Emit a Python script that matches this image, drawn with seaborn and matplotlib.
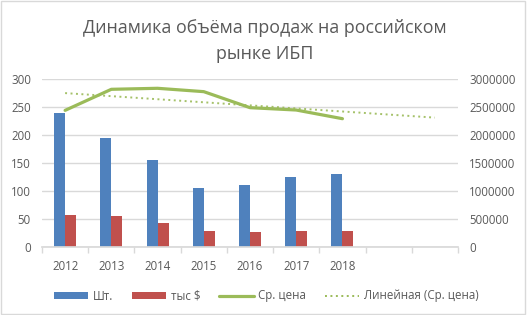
import numpy as np
import pandas as pd
import matplotlib
matplotlib.use("Agg")
import matplotlib.pyplot as plt
from matplotlib.patches import Rectangle, Patch
from matplotlib.lines import Line2D
import seaborn as sns

years = ["2012", "2013", "2014", "2015", "2016", "2017", "2018"]
units = [240, 195, 155, 105, 110, 125, 130]
usd_k = [58, 55, 43, 28, 27, 29, 29]
avg_price = [2440000, 2816000, 2834000, 2774000, 2488000, 2446000, 2291000]
n_slots = 9  # two empty slots after 2018 for the trendline forecast

BLUE = "#4F81BD"
RED = "#C0504D"
GREEN = "#9BBB59"
GRID = "#D9D9D9"
TEXT = "#595959"

sns.set_theme(style="white")
plt.rcParams["font.family"] = ["Open Sans", "DejaVu Sans"]

df = pd.DataFrame({
    "year": years * 2,
    "value": units + usd_k,
    "series": ["Шт."] * len(years) + ["тыс $"] * len(years),
})

fig = plt.figure(figsize=(5.27, 3.15), dpi=100)
ax = fig.add_axes([42 / 527, 1 - 247 / 315, 416 / 527, 168 / 315])

sns.barplot(data=df, x="year", y="value", hue="series", order=years,
            palette=[BLUE, RED], width=0.476, ax=ax, legend=False,
            saturation=1, edgecolor="none")
ax.set_xlim(-0.5, n_slots - 0.5)
ax.set_ylim(0, 300)
ax.set_yticks(range(0, 301, 50))
ax.yaxis.grid(True, color=GRID, linewidth=1)
ax.set_axisbelow(True)
ax.set_xlabel("")
ax.set_ylabel("")
for s in ["top", "left", "right"]:
    ax.spines[s].set_visible(False)
ax.spines["bottom"].set_color(GRID)
ax.set_xticks(range(len(years)))
ax.set_xticklabels(years)
ax.set_xticks(np.arange(-0.5, n_slots, 1), minor=True)
ax.tick_params(axis="x", which="major", length=0, pad=9, labelsize=8.3, labelcolor=TEXT)
ax.tick_params(axis="x", which="minor", length=4, color=GRID, width=1, bottom=True)
ax.tick_params(axis="y", length=0, pad=8, labelsize=8.3, labelcolor=TEXT)

ax2 = ax.twinx()
x = np.arange(len(years))
sns.lineplot(x=x, y=avg_price, color=GREEN, linewidth=2.3, ax=ax2)
coef = np.polyfit(x, avg_price, 1)
xt = np.arange(n_slots)
sns.lineplot(x=xt, y=np.polyval(coef, xt), color=GREEN, linewidth=1.4,
             linestyle=(0, (1, 1.8)), alpha=0.9, ax=ax2)
ax2.set_ylim(0, 3000000)
ax2.set_yticks(range(0, 3000001, 500000))
ax2.set_yticklabels([str(v) for v in range(0, 3000001, 500000)])
ax2.tick_params(axis="y", length=0, pad=8, labelsize=8.3, labelcolor=TEXT)
for s in ["top", "left", "right", "bottom"]:
    ax2.spines[s].set_visible(False)
ax2.grid(False)
ax.set_xlim(-0.5, n_slots - 0.5)

fig.text(0.503, 1 - 41 / 315, "Динамика объёма продаж на российском\nрынке ИБП",
         ha="center", va="center", fontsize=12.9, color=TEXT, linespacing=1.55)

handles = [
    Patch(facecolor=BLUE, edgecolor="none"),
    Patch(facecolor=RED, edgecolor="none"),
    Line2D([], [], color=GREEN, linewidth=2.3),
    Line2D([], [], color=GREEN, linewidth=1.4, linestyle=(0, (1, 1.8))),
]
labels = ["Шт.", "тыс $", "Ср. цена", "Линейная (Ср. цена)"]
fig.legend(handles, labels, loc="center", bbox_to_anchor=(0.505, 1 - 296 / 315),
           ncol=4, frameon=False, handlelength=3.0, handleheight=0.5,
           handletextpad=0.4, columnspacing=1.6, fontsize=8.3, labelcolor=TEXT)

fig.patches.append(Rectangle((0.002, 0.003), 0.995, 0.994, transform=fig.transFigure,
                             fill=False, edgecolor=GRID, linewidth=1))

fig.savefig("out.png", dpi=100)
